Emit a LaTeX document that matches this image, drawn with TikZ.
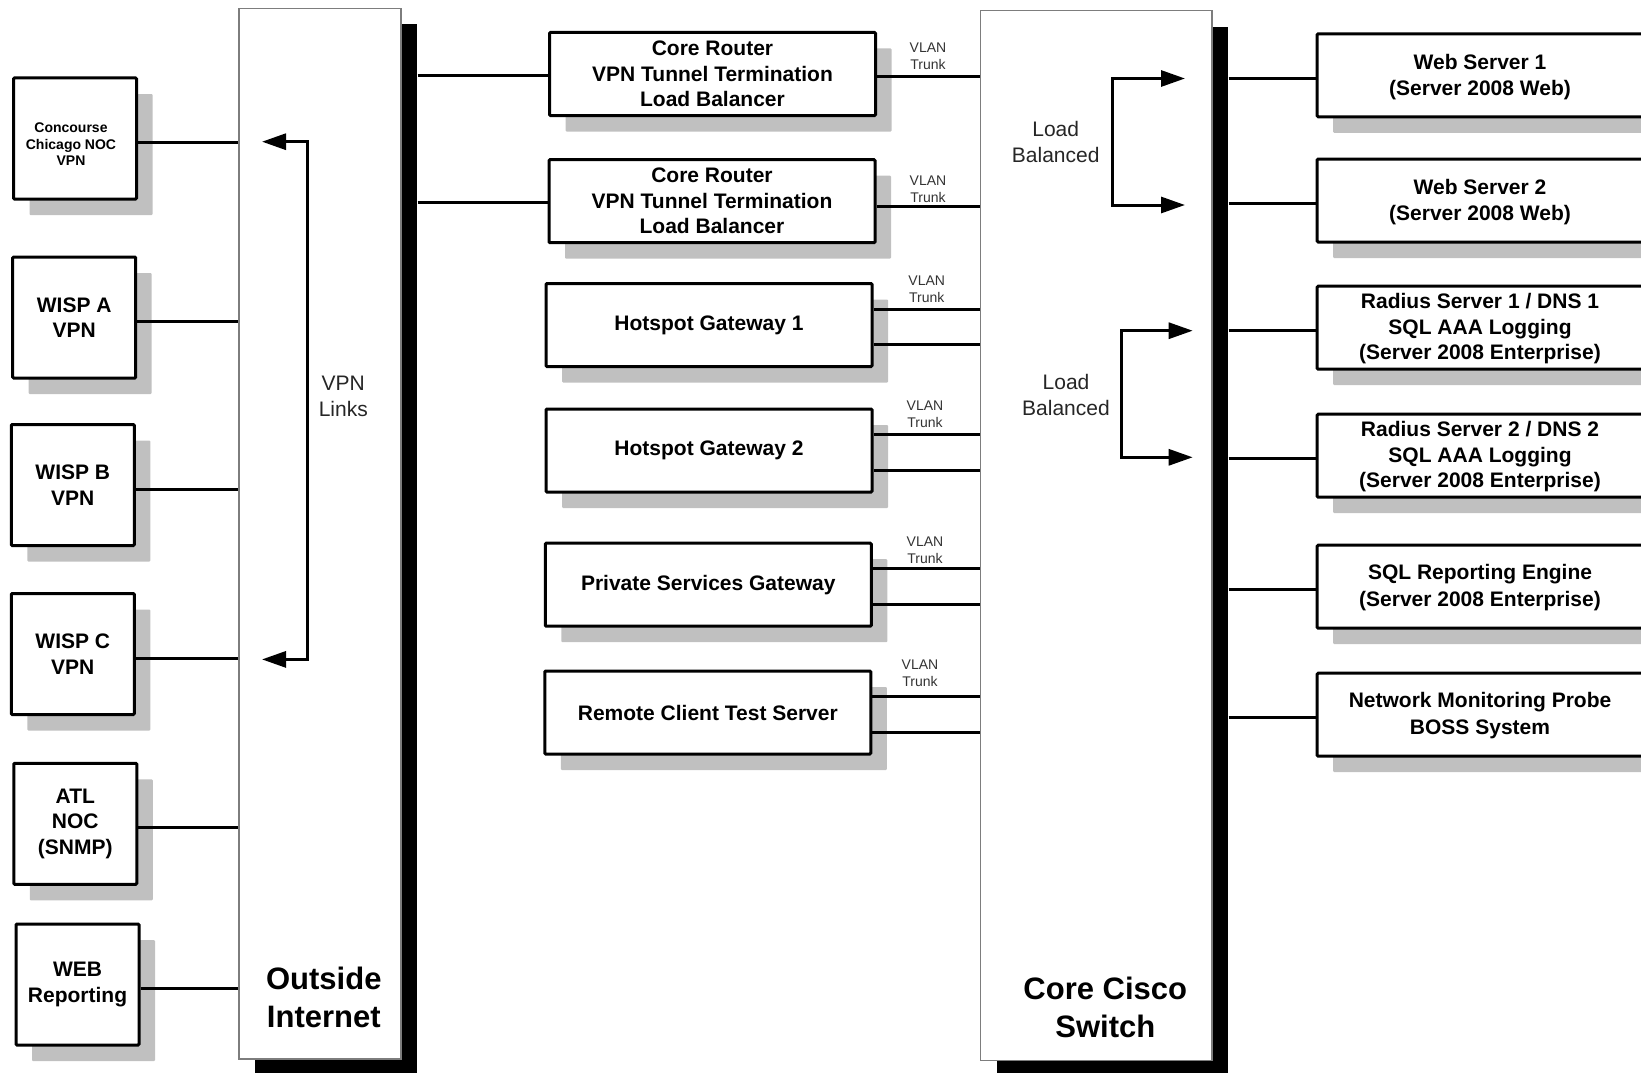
\documentclass[tikz,border=0pt]{standalone}
\usepackage{fontspec}
\setmainfont{Liberation Sans}
\usetikzlibrary{arrows.meta,shadows}
\definecolor{shgray}{RGB}{192,192,192}
\definecolor{oigray}{RGB}{125,125,125}
\begin{document}
\begin{tikzpicture}[x=1pt,y=-1pt,
  sh/.style={drop shadow={shadow xshift=16pt,shadow yshift=-16pt,fill=shgray,opacity=1}},
  box/.style={draw=black,line width=3pt,fill=white,inner sep=0pt,align=center,
    rounded corners=1pt,font=\fontsize{21}{25.5}\selectfont\bfseries,sh},
  lbox/.style={box,minimum width=123pt,minimum height=121pt},
  mbox/.style={box,minimum width=326pt,minimum height=83pt},
  rbox/.style={box,minimum width=329pt,minimum height=83pt},
  big/.style={draw=oigray,line width=1.3pt,fill=white,inner sep=0pt,
    drop shadow={shadow xshift=16pt,shadow yshift=-16pt,fill=black,opacity=1}},
  bigtxt/.style={align=center,inner sep=0pt,font=\fontsize{31}{38}\selectfont\bfseries},
  conn/.style={line width=3pt},
  arr/.style={line width=3pt,{Triangle[length=24pt,width=16pt]}-{Triangle[length=24pt,width=16pt]}},
  vlan/.style={align=center,inner sep=0pt,text=black!80,font=\fontsize{14}{17}\selectfont},
  note/.style={align=center,inner sep=0pt,text=black!85,font=\fontsize{21}{25.8}\selectfont},
  rtxt/.style={align=center,inner sep=0pt,font=\fontsize{21}{26.5}\selectfont\bfseries}]
\useasboundingbox (0,0) rectangle (1641,1073);

% backbone boxes
\node[big,minimum width=162pt,minimum height=1050.7pt] (oi) at (320,533.7) {};
\node[big,minimum width=231.3pt,minimum height=1050pt] (cs) at (1096.3,535.7) {};
\coordinate (oiR) at ([xshift=16pt]oi.east);
\coordinate (csR) at ([xshift=16pt]cs.east);
\node[bigtxt] (oitxt) at (323.8,997) {Outside\\Internet};
\node[bigtxt] (cstxt) at (1105.3,1007.5) {Core Cisco\\Switch};

% left boxes
\node[lbox] (conc) at (75,138.5) {};
\node[align=center,inner sep=0pt,font=\fontsize{14}{16.5}\selectfont\bfseries] (conct) at (71,144.5) {Concourse\\Chicago NOC\\VPN};
\node[lbox] (wispa) at (74.2,317.5) {WISP A\\VPN};
\node[lbox] (wispb) at (72.8,485) {WISP B\\VPN};
\node[lbox] (wispc) at (72.8,654) {WISP C\\VPN};
\node[lbox] (atl) at (75.3,823.8) {ATL\\NOC\\(SNMP)};
\node[lbox] (web) at (77.5,984.5) {WEB\\Reporting};

\foreach \n in {conc,wispa,wispb,wispc,atl,web}{
  \draw[conn] ([yshift=-4pt]\n.east) -- ([yshift=-4pt]\n.east -| oi.west);
}

% VPN links bracket
\coordinate (vtipt) at (262,141.7);
\coordinate (vtipb) at (262,659.4);
\coordinate (vtop) at (307,141.7);
\coordinate (vbot) at (307,659.4);
\draw[arr] (vtipt) -- (vtop) -- (vbot) -- (vtipb);
\node[note] (vpnl) at (343.3,396.7) {VPN\\Links};

% middle boxes
\node[mbox] (cr1) at (712.5,74) {Core Router\\VPN Tunnel Termination\\Load Balancer};
\node[mbox] (cr2) at (712,201.2) {Core Router\\VPN Tunnel Termination\\Load Balancer};
\node[mbox] (hg1) at (709,325) {Hotspot Gateway 1};
\node[mbox] (hg2) at (709,450.5) {Hotspot Gateway 2};
\node[mbox] (psg) at (708.3,584.7) {Private Services Gateway};
\node[mbox] (rcts) at (707.8,712.5) {Remote Client Test Server};

\draw[conn] ([yshift=-1.5pt]cr1.west -| oiR) -- ([yshift=-1.5pt]cr1.west);
\draw[conn] ([yshift=-1.5pt]cr2.west -| oiR) -- ([yshift=-1.5pt]cr2.west);
\draw[conn] ([yshift=-3pt]cr1.east) -- ([yshift=-3pt]cr1.east -| cs.west);
\draw[conn] ([yshift=-5.5pt]cr2.east) -- ([yshift=-5.5pt]cr2.east -| cs.west);
\foreach \n in {hg1,hg2,psg,rcts}{
  \draw[conn] ([yshift=16pt]\n.east) -- ([yshift=16pt]\n.east -| cs.west);
  \draw[conn] ([yshift=-19.5pt]\n.east) -- ([yshift=-19.5pt]\n.east -| cs.west);
}
\node[vlan] (v1) at (928,56.5) {VLAN\\Trunk};
\node[vlan] (v2) at (928,189.2) {VLAN\\Trunk};
\node[vlan] (v3) at (926.7,289) {VLAN\\Trunk};
\node[vlan] (v4) at (925,414.5) {VLAN\\Trunk};
\node[vlan] (v5) at (925,550.3) {VLAN\\Trunk};
\node[vlan] (v6) at (920,673.3) {VLAN\\Trunk};

% load balanced arrows
\coordinate (a1t) at (1185,78.5);
\coordinate (a1b) at (1185,205);
\draw[arr] (a1t) -- (1112.7,78.5) -- (1112.7,205) -- (a1b);
\node[note] (lb1) at (1055.7,141.7) {Load\\Balanced};
\coordinate (a2t) at (1192.7,330.7);
\coordinate (a2b) at (1192.7,457.3);
\draw[arr] (a2t) -- (1121,330.7) -- (1121,457.3) -- (a2b);
\node[note] (lb2) at (1066,395.3) {Load\\Balanced};

% right boxes
\node[rbox] (ws1) at (1481.7,75.3) {};
\node[rbox] (ws2) at (1481.7,200.5) {};
\node[rbox] (r1) at (1481.7,327.7) {};
\node[rbox] (r2) at (1481.7,455.7) {};
\node[rbox] (sql) at (1481.7,586.7) {};
\node[rbox] (nmp) at (1481.7,714.7) {};
\node[rtxt] (t1) at (1480,77) {Web Server 1\\(Server 2008 Web)};
\node[rtxt] (t2) at (1480,202) {Web Server 2\\(Server 2008 Web)};
\node[rtxt,font=\fontsize{21}{25.8}\selectfont\bfseries] (t3) at (1480,328.7) {Radius Server 1 / DNS 1\\SQL AAA Logging\\(Server 2008 Enterprise)};
\node[rtxt,font=\fontsize{21}{25.8}\selectfont\bfseries] (t4) at (1480,456.7) {Radius Server 2 / DNS 2\\SQL AAA Logging\\(Server 2008 Enterprise)};
\node[rtxt] (t5) at (1480,587.7) {SQL Reporting Engine\\(Server 2008 Enterprise)};
\node[rtxt] (t6) at (1480,715.7) {Network Monitoring Probe\\BOSS System};

\foreach \n in {ws1,ws2,r1,r2,sql,nmp}{
  \draw[conn] ([yshift=-3pt]\n.west -| csR) -- ([yshift=-3pt]\n.west);
}
\end{tikzpicture}
\end{document}
